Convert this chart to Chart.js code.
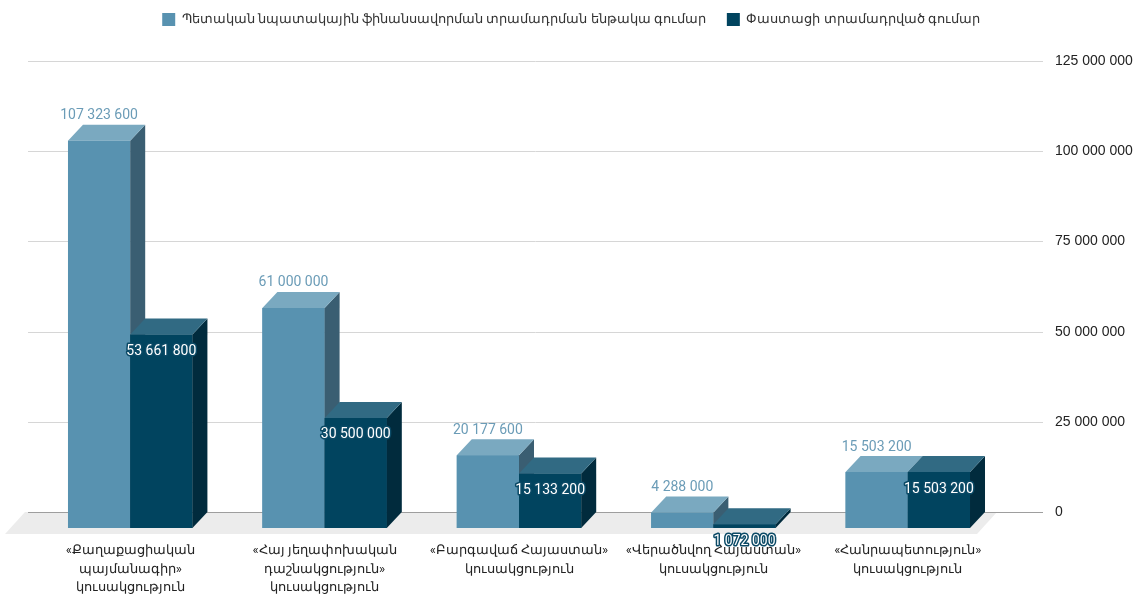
<!DOCTYPE html>
<html>
<head>
<meta charset="utf-8">
<script src="https://cdn.jsdelivr.net/npm/chart.js@4"></script>
<style>
  body { margin: 0; background: #fff; }
  #wrap { width: 1142px; height: 597px; }
</style>
</head>
<body>
<div id="wrap"><canvas id="chart" width="1142" height="597"></canvas></div>
<script>
// categories
const parties = [
    ["«Քաղաքացիական", "պայմանագիր»", "կուսակցություն"],
    ["«Հայ յեղափոխական", "դաշնակցություն»", "կուսակցություն"],
    ["«Բարգավաճ Հայաստան»", "կուսակցություն"],
    ["«Վերածնվող Հայաստան»", "կուսակցություն"],
    ["«Հանրապետություն»", "կուսակցություն"]
];
const seriesNames = [
    "Պետական նպատակային ֆինանսավորման տրամադրման ենթակա գումար",
    "Փաստացի տրամադրված գումար"
];
const allocated = [107323600, 61000000, 20177600, 4288000, 15503200];
const actual = [53661800, 30500000, 15133200, 1072000, 15503200];
const yTicks = [0, 25000000, 50000000, 75000000, 100000000, 125000000];

// 3d look
const DX = 15, DY = 16;
const faces = [
    { front: "#5892b0", top: "#7aa9c0", side: "#3a5e72" },
    { front: "#01445f", top: "#316a83", side: "#012b3d" }
];

function fmt(v) {
    return String(v).replace(/\B(?=(\d{3})+(?!\d))/g, " ");
}

function poly(ctx, pts, color) {
    ctx.beginPath();
    ctx.moveTo(pts[0][0], pts[0][1]);
    for (let i = 1; i < pts.length; i++) ctx.lineTo(pts[i][0], pts[i][1]);
    ctx.closePath();
    ctx.fillStyle = color;
    ctx.fill();
}

const backdrop = {
    id: "backdrop",
    beforeInit(chart) {
        // room between legend and plot
        const fit = chart.legend.fit;
        chart.legend.fit = function () {
            fit.call(this);
            this.height = 85;
        };
    },
    beforeDatasetsDraw(chart) {
        const ctx = chart.ctx;
        const y = chart.scales.y;
        const area = chart.chartArea;
        const zero = y.getPixelForValue(0);
        ctx.save();
        // floor
        poly(ctx, [
            [area.left - 8, zero - DY],
            [area.right - 8, zero - DY],
            [area.right - 28, zero + 6],
            [area.left - 28, zero + 6]
        ], "#ececec");
        // grid lines + tick labels on the back wall
        ctx.font = "14px 'Liberation Sans', Arial, sans-serif";
        ctx.textBaseline = "middle";
        ctx.textAlign = "left";
        yTicks.forEach(v => {
            const py = Math.round(y.getPixelForValue(v) - DY) + 0.5;
            ctx.strokeStyle = v === 0 ? "#9e9e9e" : "#d6d6d6";
            ctx.lineWidth = 1;
            ctx.beginPath();
            ctx.moveTo(area.left - 5, py);
            ctx.lineTo(area.right + 38, py);
            ctx.stroke();
            ctx.fillStyle = "#222";
            ctx.fillText(fmt(v), area.right + 50, py);
        });
        ctx.restore();
    },
    afterDatasetsDraw(chart) {
        const ctx = chart.ctx;
        ctx.save();
        // redraw the bars as boxes, lighter series first so the darker one sits in front
        [0, 1].forEach(di => {
            const f = faces[di];
            chart.getDatasetMeta(di).data.forEach(bar => {
                const p = bar.getProps(["x", "y", "base", "width"], true);
                const l = p.x - p.width / 2, r = p.x + p.width / 2;
                poly(ctx, [[l, p.y], [r, p.y], [r, p.base], [l, p.base]], f.front);
                poly(ctx, [[r, p.y], [r + DX, p.y - DY], [r + DX, p.base - DY], [r, p.base]], f.side);
                poly(ctx, [[l, p.y], [l + DX, p.y - DY], [r + DX, p.y - DY], [r, p.y]], f.top);
            });
        });
        ctx.font = "14px Roboto, sans-serif";
        ctx.textAlign = "center";
        ctx.textBaseline = "middle";
        chart.getDatasetMeta(0).data.forEach((bar, i) => {
            ctx.fillStyle = "#6b9cb7";
            ctx.fillText(fmt(allocated[i]), bar.x, bar.y - 25);
        });
        chart.getDatasetMeta(1).data.forEach((bar, i) => {
            ctx.lineJoin = "round";
            ctx.lineWidth = 3;
            ctx.strokeStyle = "#0b4a66";
            ctx.strokeText(fmt(actual[i]), bar.x, bar.y + 17);
            ctx.fillStyle = "#ffffff";
            ctx.fillText(fmt(actual[i]), bar.x, bar.y + 17);
        });
        ctx.restore();
    }
};

new Chart(document.getElementById("chart"), {
    type: "bar",
    data: {
        labels: parties,
        datasets: [
            { label: seriesNames[0], data: allocated, backgroundColor: faces[0].front },
            { label: seriesNames[1], data: actual, backgroundColor: faces[1].front }
        ]
    },
    options: {
        responsive: false,
        animation: false,
        layout: { padding: { left: 33, right: 33, top: -8, bottom: 0 } },
        categoryPercentage: 0.64,
        barPercentage: 1.0,
        plugins: {
            legend: {
                position: "top",
                labels: {
                    boxWidth: 13,
                    boxHeight: 13,
                    padding: 21,
                    color: "#333",
                    font: { family: "Roboto, 'Noto Sans', sans-serif", size: 13 }
                }
            },
            tooltip: { enabled: false }
        },
        scales: {
            x: {
                grid: { display: false, drawTicks: false },
                border: { display: false },
                afterFit(scale) { scale.height = 69; },
                ticks: {
                    padding: 14,
                    color: "#222",
                    maxRotation: 0,
                    autoSkip: false,
                    font: { family: "Roboto, 'Noto Sans', sans-serif", size: 13, lineHeight: 1.42 }
                }
            },
            y: {
                position: "right",
                min: 0,
                max: 125000000,
                grid: { display: false, drawTicks: false },
                border: { display: false },
                ticks: { display: false },
                afterFit(scale) { scale.width = 104; }
            }
        }
    },
    plugins: [backdrop]
});
</script>
</body>
</html>
